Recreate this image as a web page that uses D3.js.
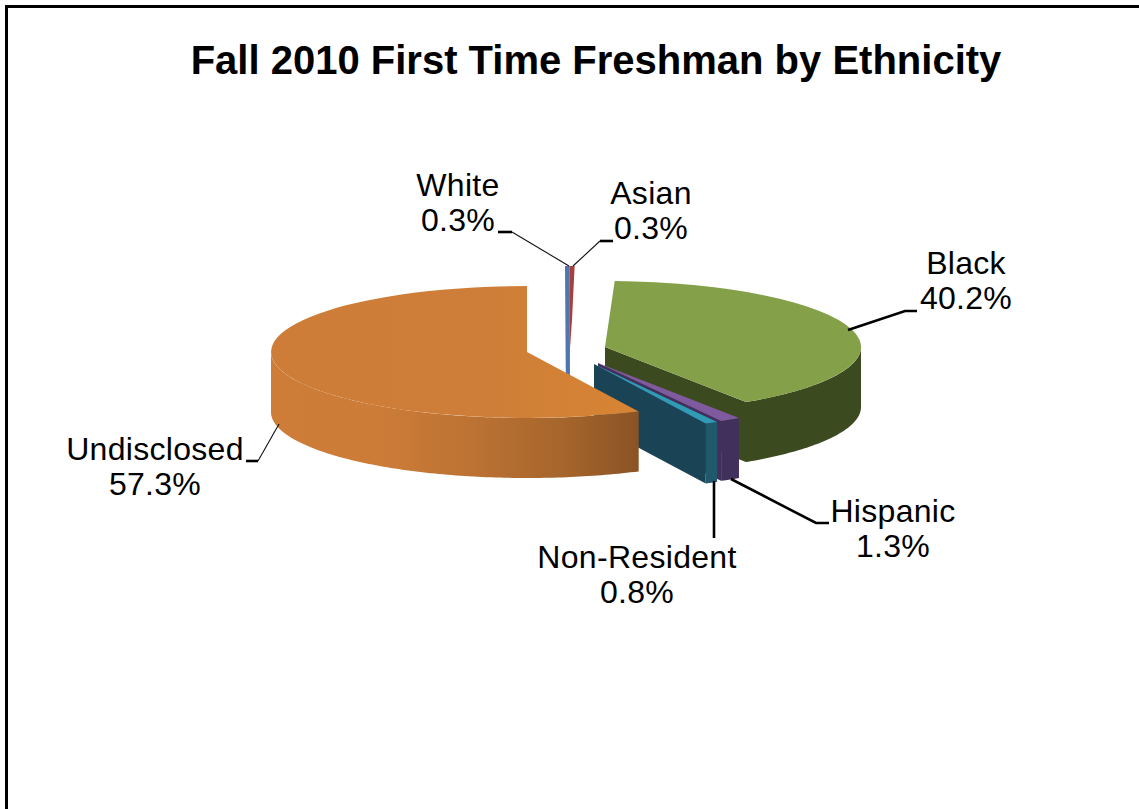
<!DOCTYPE html>
<html><head><meta charset="utf-8">
<script src="https://cdn.jsdelivr.net/npm/d3@7"></script>
<style>html,body{margin:0;padding:0;background:#fff}svg{display:block}text{font-family:"Liberation Sans",Arial,sans-serif;fill:#000}</style>
</head><body><svg id="c" width="1139" height="809"></svg>
<script>
const categories = ["White","Asian","Black","Hispanic","Non-Resident","Undisclosed"];
const percentages = [0.3,0.3,40.2,1.3,0.8,57.3];
const labelTexts = ["0.3%","0.3%","40.2%","1.3%","0.8%","57.3%"];

// layout
const W=1139,H=809, rx=256, ry=66, depth=60, cx=566, cy=349;
const sliceOffsets=[[2,-1],[2,-1],[39,-2],[32,14],[28,15],[-39,3]];
const thinRy=82, thinLean=-3;
const topColors=["#4f81bd","#a83f3c","#84a048","#7f5a9e","#2f9bb4","url(#oT)"];
const wallColors=["#4a6ea8","#a5403c","#3c4a20","#42305c","#20596b","url(#oW)"];
const cutColors=["#4f77ad","#a5403c","#3c4a20","#42305c","#1b4356","#a96a30"];
const labels=[
 {x:458,y:196,thick:[[498,232],[512,232]],thin:[[512,232],[569,266]]},
 {x:651,y:204,thick:[[613,241],[600,241]],thin:[[600,241],[573,266]]},
 {x:966,y:274,thick:[[917,311],[905,311],[848,330]]},
 {x:893,y:522,thick:[[829,523],[816,523],[731,479]]},
 {x:637,y:568,thick:[[714,538],[714,481]]},
 {x:155,y:460,thick:[[246,461],[258,461]],thin:[[258,461],[279,424]]}
];

const svg=d3.select("#c");
const defs=svg.append("defs");
function grad(id,stops){const g=defs.append("linearGradient").attr("id",id).attr("gradientUnits","objectBoundingBox").attr("x1",0).attr("x2",1).attr("y1",0).attr("y2",0);
 stops.forEach(s=>g.append("stop").attr("offset",s[0]).attr("stop-color",s[1]));}
grad("oT",[[0,"#cd7d38"],[0.6,"#ce7e38"],[1,"#d88433"]]);
grad("oW",[[0,"#cd7d38"],[0.3,"#cc7c37"],[0.55,"#bc7233"],[0.8,"#a5652c"],[1,"#8b5325"]]);

svg.append("rect").attr("x",6.5).attr("y",6.5).attr("width",W+20).attr("height",H+20).attr("fill","#fff").attr("stroke","#000").attr("stroke-width",3);

svg.append("text").attr("x",596).attr("y",74).attr("text-anchor","middle").attr("font-weight","bold").attr("font-size",40).text("Fall 2010 First Time Freshman by Ethnicity");

const pie=d3.pie().sort(null).value(d=>d).startAngle(0).endAngle(2*Math.PI);
const arcs=pie(percentages);
const px=d3.scaleLinear().domain([-1,1]).range([-rx,rx]);
const py=d3.scaleLinear().domain([-1,1]).range([-ry,ry]);
const pyThin=d3.scaleLinear().domain([-1,1]).range([-thinRy,thinRy]);
const line=d3.line();
const arcGen=d3.arc().innerRadius(0).outerRadius(1);
const fine=Math.PI/180;
const anglePts=(a,b)=>{const r=d3.range(a,b,fine);r.push(b);return r;};

function apex(i){return [cx+sliceOffsets[i][0],cy+sliceOffsets[i][1]];}
function rim(i,a,dz=0){const p=apex(i);return [p[0]+px(Math.sin(a)),p[1]+py(-Math.cos(a))+dz];}
function thinRim(i,a){const p=apex(i);return [p[0]+px(Math.sin(a))+thinLean,p[1]+pyThin(-Math.cos(a))];}

const g=svg.append("g");
arcs.forEach((d,i)=>{
 const A=apex(i);
 const s=g.append("g").attr("class","slice");
 if(i===0){
  // White sliver: a band running from the rim past the point and down its depth
  s.append("path").attr("d",line([thinRim(0,d.startAngle),thinRim(0,d.endAngle),[A[0]+2,A[1]+depth],[A[0]-2,A[1]+depth]])+"Z").attr("fill",cutColors[0]);
  return;
 }
 if(i===1){
  // Asian sliver: a band narrowing slowly towards the point
  s.append("path").attr("d",line([thinRim(1,d.startAngle),thinRim(1,d.endAngle),[A[0]+4,A[1]-28],[A[0]+2,A[1]]])+"Z").attr("fill",topColors[1]);
  return;
 }
 if(d.endAngle<Math.PI){
  s.append("path").attr("d",line([A,rim(i,d.endAngle),rim(i,d.endAngle,depth),[A[0],A[1]+depth]])+"Z").attr("fill",cutColors[i]);
 }
 const a0=Math.max(d.startAngle,Math.PI/2), a1=Math.min(d.endAngle,3*Math.PI/2);
 if(a1>a0){
  const pts=anglePts(a0,a1);
  const wall=pts.map(a=>rim(i,a)).concat(pts.slice().reverse().map(a=>rim(i,a,depth)));
  s.append("path").attr("d",line(wall)+"Z").attr("fill",wallColors[i]);
 }
 s.append("path").attr("transform",`translate(${A[0]},${A[1]}) scale(${px(1)},${py(1)})`)
  .attr("d",arcGen(d)).attr("fill",topColors[i]);
});

labels.forEach((l,i)=>{
 const t=svg.append("text").attr("text-anchor","middle").attr("font-size",32).attr("letter-spacing",0.3);
 t.append("tspan").attr("x",l.x).attr("y",l.y).text(categories[i]);
 t.append("tspan").attr("x",l.x).attr("y",l.y+35).text(labelTexts[i]);
 svg.append("path").attr("d",line(l.thick)).attr("fill","none").attr("stroke","#000").attr("stroke-width",2.6);
 if(l.thin) svg.append("path").attr("d",line(l.thin)).attr("fill","none").attr("stroke","#111").attr("stroke-width",1.1);
});
</script></body></html>
